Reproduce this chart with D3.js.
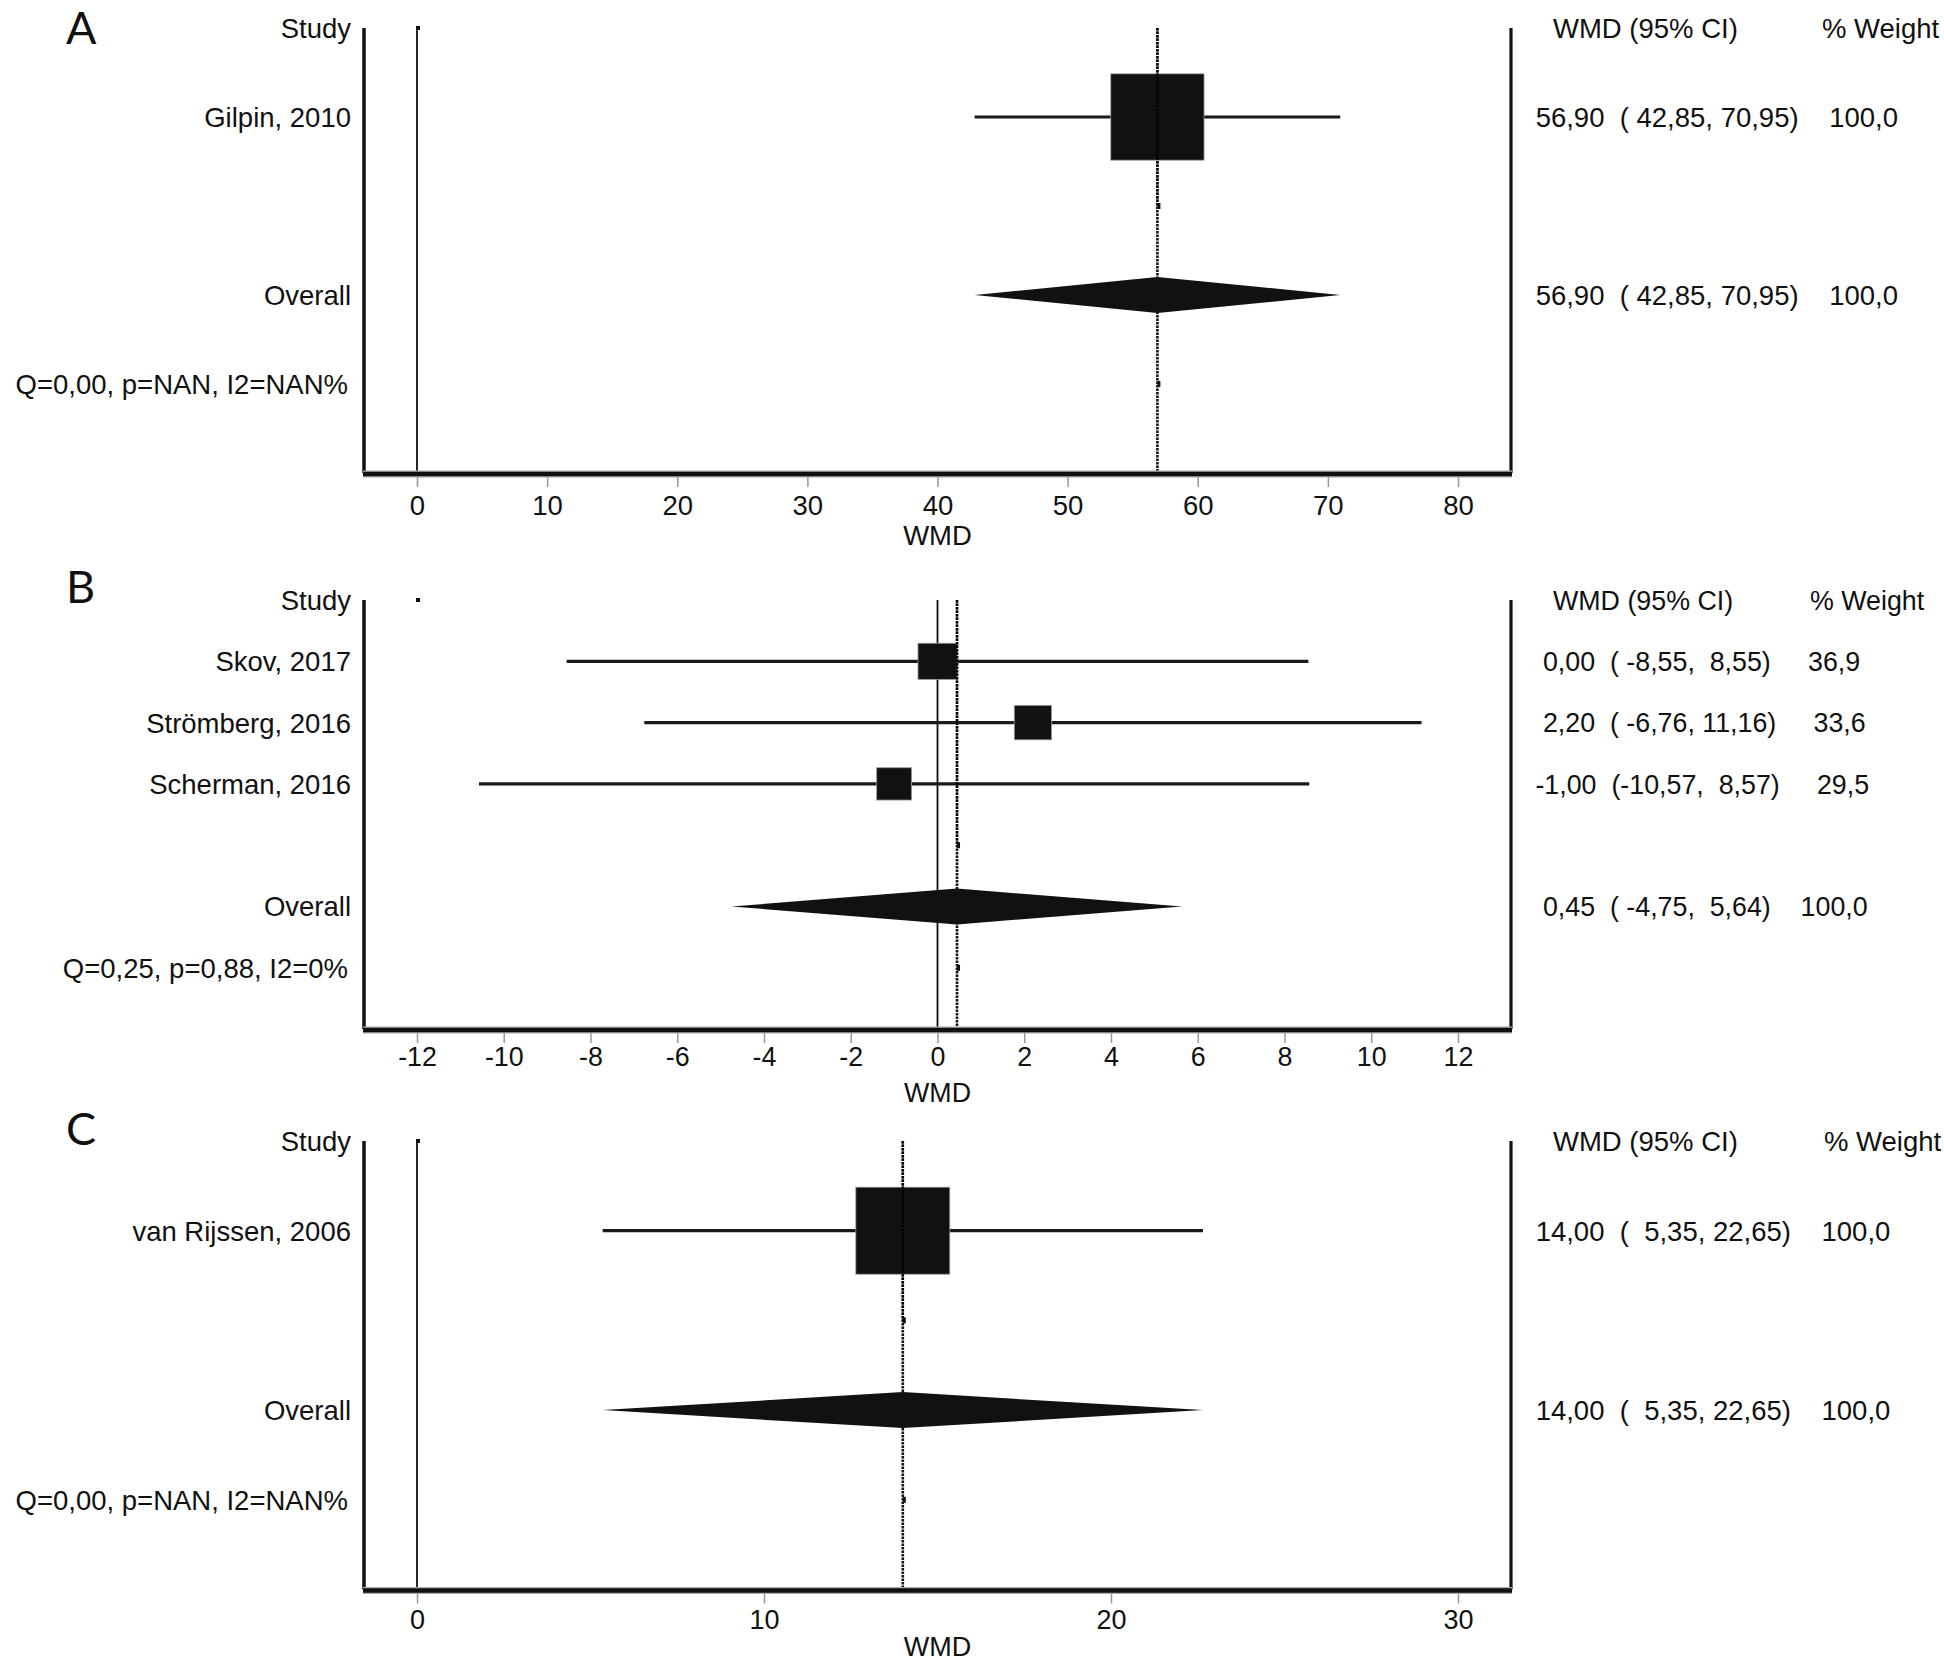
<!DOCTYPE html>
<html><head><meta charset="utf-8">
<script src="https://cdn.jsdelivr.net/npm/d3@7"></script>
<style>
body{margin:0;background:#fff}
text{font-family:"Liberation Sans",Arial,Helvetica,sans-serif;fill:#111}
</style>
</head><body>
<svg id="chart" width="1944" height="1665"></svg>
<script>
// ---------- DATA ----------
// Panel A
const studiesA = ["Gilpin, 2010"];
const estA = [56.90];
const loA = [42.85];
const hiA = [70.95];
const weightA = [100.0];
const overallA = [56.90, 42.85, 70.95, 100.0]; // est, lo, hi, weight
const hetA = "Q=0,00, p=NAN, I2=NAN%";
const ticksA = [0, 10, 20, 30, 40, 50, 60, 70, 80];

// Panel B
const studiesB = ["Skov, 2017", "Strömberg, 2016", "Scherman, 2016"];
const estB = [0.00, 2.20, -1.00];
const loB = [-8.55, -6.76, -10.57];
const hiB = [8.55, 11.16, 8.57];
const weightB = [36.9, 33.6, 29.5];
const overallB = [0.45, -4.75, 5.64, 100.0];
const hetB = "Q=0,25, p=0,88, I2=0%";
const ticksB = [-12, -10, -8, -6, -4, -2, 0, 2, 4, 6, 8, 10, 12];

// Panel C
const studiesC = ["van Rijssen, 2006"];
const estC = [14.00];
const loC = [5.35];
const hiC = [22.65];
const weightC = [100.0];
const overallC = [14.00, 5.35, 22.65, 100.0];
const hetC = "Q=0,00, p=NAN, I2=NAN%";
const ticksC = [0, 10, 20, 30];

const panelLetters = ["A", "B", "C"];
const axisTitle = "WMD";
const headStudy = "Study", headCI = "WMD (95% CI)", headWeight = "% Weight", overallLabel = "Overall";

// ---------- LAYOUT ----------
const layout = [
  {top: 28,   step: 89,   letterY: 44,   wtX: 1822, fsR: 27.5, titleOff: 62, tickPad: 8, fsAx: 27.5},
  {top: 600,  step: 61.3, letterY: 603,  wtX: 1810, fsR: 26.8, titleOff: 63, tickPad: 4, fsAx: 26.8},
  {top: 1141, step: 89.7, letterY: 1145, wtX: 1824, fsR: 27.5, titleOff: 57, tickPad: 6, fsAx: 27}
];
const panels = [
  {studies: studiesA, est: estA, lo: loA, hi: hiA, w: weightA, overall: overallA, het: hetA, ticks: ticksA},
  {studies: studiesB, est: estB, lo: loB, hi: hiB, w: weightB, overall: overallB, het: hetB, ticks: ticksB},
  {studies: studiesC, est: estC, lo: loC, hi: hiC, w: weightC, overall: overallC, het: hetC, ticks: ticksC}
];

const svg = d3.select("#chart");
svg.append("rect").attr("width", 1944).attr("height", 1665).attr("fill", "#fff");

const leftAxisX = 364, rightAxisX = 1511, labelRight = 351, ciX = 1528, fs = 27.5;
const ink = "#111";

const f2 = v => d3.format(".2f")(v).replace("−", "-").replace(".", ",");
const f1 = v => d3.format(".1f")(v).replace("−", "-").replace(".", ",");
const pad = (s, n) => s.length >= n ? s : " ".repeat(n - s.length) + s;
const rowString = (e, l, h, w) => pad(f2(e), 6) + "  (" + pad(f2(l), 6) + "," + pad(f2(h), 6) + ")   " + pad(f1(w), 6);

panels.forEach((p, pi) => {
  const L = layout[pi];
  const g = svg.append("g");
  const n = p.studies.length;
  const rowY = i => L.top + L.step * i;
  const axisY = rowY(n + 4);
  const x = d3.scaleLinear().domain([p.ticks[0], p.ticks[p.ticks.length - 1]]).range([417, 1458]);

  // panel letter
  g.append("text").attr("x", 66).attr("y", L.letterY)
    .style("font-family", "Lato, 'Open Sans', sans-serif").style("font-size", "45px")
    .text(panelLetters[pi]);

  // left labels
  const lab = (txt, y) => g.append("text").attr("x", labelRight).attr("y", y).attr("dy", "0.36em")
    .attr("text-anchor", "end").style("font-size", fs + "px").text(txt);
  lab(headStudy, rowY(0));
  p.studies.forEach((s, i) => lab(s, rowY(i + 1)));
  lab(overallLabel, rowY(n + 2));
  g.append("text").attr("x", labelRight - 3).attr("y", rowY(n + 3)).attr("dy", "0.36em")
    .attr("text-anchor", "end").style("font-size", fs + "px").text(p.het);

  // right headers
  g.append("text").attr("x", 1553).attr("y", rowY(0)).attr("dy", "0.36em").style("font-size", L.fsR + "px").text(headCI);
  g.append("text").attr("x", L.wtX).attr("y", rowY(0)).attr("dy", "0.36em").style("font-size", L.fsR + "px").text(headWeight);
  const rtxt = (txt, y) => g.append("text").attr("x", ciX).attr("y", y).attr("dy", "0.36em")
    .attr("xml:space", "preserve").style("white-space", "pre").style("font-size", L.fsR + "px").text(txt);
  p.studies.forEach((s, i) => rtxt(rowString(p.est[i], p.lo[i], p.hi[i], p.w[i]), rowY(i + 1)));
  rtxt(rowString(p.overall[0], p.overall[1], p.overall[2], p.overall[3]), rowY(n + 2));

  // null line
  g.append("line").attr("x1", x(0)).attr("x2", x(0)).attr("y1", rowY(0)).attr("y2", axisY)
    .attr("stroke", ink).attr("stroke-width", 1.8);
  // small dot at first tick / header row
  g.append("rect").attr("x", x(p.ticks[0]) - 1).attr("y", rowY(0) - 2).attr("width", 4).attr("height", 4).attr("fill", ink);

  // overall dotted line
  const ox = x(p.overall[0]);
  g.append("line").attr("x1", ox).attr("x2", ox).attr("y1", rowY(0)).attr("y2", axisY)
    .attr("stroke", ink).attr("stroke-width", 2.6).attr("stroke-dasharray", "2.5,1");
  [n + 1, n + 3].forEach(r => g.append("rect").attr("x", ox).attr("y", rowY(r) - 3).attr("width", 3).attr("height", 6).attr("fill", ink));

  // CI lines and boxes
  p.studies.forEach((s, i) => {
    const y = rowY(i + 1);
    g.append("line").attr("x1", x(p.lo[i])).attr("x2", x(p.hi[i])).attr("y1", y).attr("y2", y)
      .attr("stroke", "#1a1a1a").attr("stroke-width", 3.2);
    const h = 0.097 * L.step * Math.sqrt(p.w[i]);
    const w = h * 1.08;
    g.append("rect").attr("x", x(p.est[i]) - w / 2).attr("y", y - h / 2).attr("width", w).attr("height", h)
      .attr("fill", ink).attr("stroke", "#999").attr("stroke-width", 0.8);
  });
  // dotted line segment visible over boxes (as in reference)
  g.append("line").attr("x1", ox).attr("x2", ox).attr("y1", rowY(0)).attr("y2", rowY(n + 1))
    .attr("stroke", "#000").attr("stroke-width", 2.2).attr("stroke-dasharray", "2.5,1");

  // diamond
  const dy = rowY(n + 2), dh = 18;
  g.append("path")
    .attr("d", `M${x(p.overall[1])},${dy}L${ox},${dy - dh}L${x(p.overall[2])},${dy}L${ox},${dy + dh}Z`)
    .attr("fill", ink);

  // frame axes
  g.append("line").attr("x1", leftAxisX).attr("x2", leftAxisX).attr("y1", rowY(0)).attr("y2", axisY)
    .attr("stroke", ink).attr("stroke-width", 3.5);
  g.append("line").attr("x1", rightAxisX).attr("x2", rightAxisX).attr("y1", rowY(0)).attr("y2", axisY)
    .attr("stroke", ink).attr("stroke-width", 3.2);
  g.append("line").attr("x1", leftAxisX - 1).attr("x2", rightAxisX + 1).attr("y1", axisY + 1).attr("y2", axisY + 1)
    .attr("stroke", "#aaa").attr("stroke-width", 7);
  g.append("line").attr("x1", leftAxisX - 1).attr("x2", rightAxisX + 1).attr("y1", axisY + 1).attr("y2", axisY + 1)
    .attr("stroke", ink).attr("stroke-width", 4.5);

  // x axis ticks & labels
  const ax = g.append("g").attr("transform", `translate(0,${axisY + 4})`)
    .call(d3.axisBottom(x).tickValues(p.ticks).tickSize(10).tickPadding(L.tickPad).tickFormat(d3.format("d")));
  ax.select(".domain").remove();
  ax.selectAll(".tick line").attr("stroke", "#999").attr("stroke-width", 1.5);
  ax.selectAll(".tick text").style("font-size", L.fsAx + "px").attr("fill", ink)
    .style("font-family", "'Liberation Sans', Arial, sans-serif").text(d => d < 0 ? "-" + Math.abs(d) : d);

  g.append("text").attr("x", (leftAxisX + rightAxisX) / 2).attr("y", axisY + L.titleOff).attr("dy", "0.36em")
    .attr("text-anchor", "middle").style("font-size", L.fsAx + "px").text(axisTitle);
});
</script>
</body></html>
